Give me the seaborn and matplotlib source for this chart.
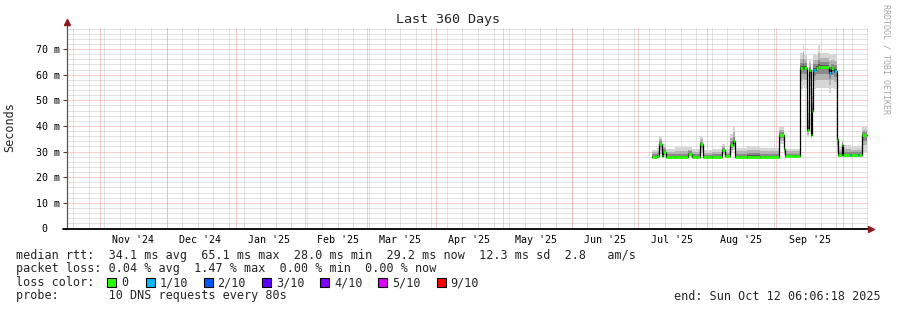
import numpy as np
import pandas as pd
import matplotlib
matplotlib.use("Agg")
import matplotlib.pyplot as plt
from matplotlib.patches import Rectangle
import seaborn as sns

sns.set_style("white")
plt.rcParams['font.family'] = ['DejaVu Sans Mono', 'DejaVu Sans']

# ---------------- data ----------------
seg_start = ["2025-07-07 01:00", "2025-07-09 12:00", "2025-07-10 13:00", "2025-07-11 13:00",
             "2025-07-12 06:00", "2025-07-13 11:00", "2025-07-17 12:00", "2025-07-23 09:00",
             "2025-07-25 04:00", "2025-07-28 18:00", "2025-07-29 23:00", "2025-08-03 03:00",
             "2025-08-07 12:00", "2025-08-09 00:00", "2025-08-11 05:30", "2025-08-12 10:00",
             "2025-08-13 11:30", "2025-08-19 00:00", "2025-08-24 17:00", "2025-09-02 06:00",
             "2025-09-04 12:00", "2025-09-04 23:00", "2025-09-11 16:30", "2025-09-13 00:00",
             "2025-09-13 12:00", "2025-09-14 17:00", "2025-09-15 21:00", "2025-09-16 10:00",
             "2025-09-16 23:00", "2025-09-17 16:00", "2025-09-18 20:00", "2025-09-20 00:00",
             "2025-09-20 16:00", "2025-09-24 17:30", "2025-09-25 15:00", "2025-09-26 18:00",
             "2025-09-28 04:30", "2025-09-28 21:30", "2025-09-30 10:00", "2025-10-01 03:30",
             "2025-10-04 05:00", "2025-10-04 17:00", "2025-10-07 21:30", "2025-10-08 08:00",
             "2025-10-09 10:00"]
data_end = "2025-10-11 14:00"
median_ms = [28.0, 28.2, 33.0, 28.4, 29.8, 28.0, 28.0, 29.2,
             28.0, 32.9, 28.0, 28.0, 30.8, 28.2, 32.5, 34.0,
             28.0, 28.0, 28.0, 36.4, 31.0, 28.2, 62.8, 63.2,
             62.8, 38.5, 61.8, 36.4, 46.0, 62.0, 62.8, 63.0,
             63.0, 60.8, 62.5, 61.5, 35.0, 28.5, 32.5, 28.5,
             28.5, 28.5, 28.5, 28.5, 36.4]
smoke_lo = [27.6, 27.7, 29.0, 27.7, 28.0, 27.6, 27.6, 28.0,
            27.6, 29.5, 27.6, 27.6, 28.5, 27.6, 29.5, 30.5,
            27.6, 27.6, 27.6, 33.0, 28.5, 27.7, 54.6, 55.5,
            55.0, 35.5, 52.0, 35.0, 38.0, 54.5, 54.8, 55.0,
            55.0, 53.0, 55.0, 54.5, 30.0, 27.8, 28.5, 27.8,
            27.8, 27.8, 27.8, 27.8, 30.0]
smoke_hi = [30.8, 31.5, 36.0, 31.5, 33.0, 31.0, 31.8, 31.8,
            31.2, 36.0, 30.5, 31.0, 33.0, 31.0, 37.0, 39.6,
            31.5, 32.2, 31.5, 39.6, 34.0, 31.2, 68.3, 72.0,
            68.0, 50.0, 66.0, 45.0, 55.0, 68.0, 67.5, 71.6,
            68.5, 68.0, 67.5, 68.0, 42.0, 32.0, 34.5, 32.5,
            32.5, 32.0, 32.5, 32.0, 39.6]
loss_level = [0, 0, 0, 0, 0, 0, 0, 0,
              0, 0, 0, 0, 0, 0, 0, 0,
              0, 0, 0, 0, 0, 0, 0, 0,
              0, 0, 0, 0, 0, 1, 0, 0,
              0, 1, 0, 1, 0, 0, 0, 0,
              1, 0, 1, 0, 0]

loss_names = ["0", "1/10", "2/10", "3/10", "4/10", "5/10", "9/10"]
loss_colors = ["#26ff00", "#00b8ff", "#0059ff", "#5e00ff", "#7e00ff", "#dd00ff", "#ff0000"]

ytick_vals = [0, 10, 20, 30, 40, 50, 60, 70]
ytick_labels = ["0\u00a0\u00a0", "10 m", "20 m", "30 m", "40 m", "50 m", "60 m", "70 m"]
month_label_dates = ["2024-11-16", "2024-12-16", "2025-01-16", "2025-02-16", "2025-03-16",
                     "2025-04-16", "2025-05-16", "2025-06-16", "2025-07-16", "2025-08-16",
                     "2025-09-16"]
month_labels = ["Nov '24", "Dec '24", "Jan '25", "Feb '25", "Mar '25", "Apr '25",
                "May '25", "Jun '25", "Jul '25", "Aug '25", "Sep '25"]

title = "Last 360 Days"
legend_rtt = "median rtt:  34.1 ms avg  65.1 ms max  28.0 ms min  29.2 ms now  12.3 ms sd  2.8   am/s"
legend_loss = "packet loss: 0.04 % avg  1.47 % max  0.00 % min  0.00 % now"
legend_probe = "probe:       10 DNS requests every 80s"
end_text = "end: Sun Oct 12 06:06:18 2025"
end_time = pd.Timestamp("2025-10-12 06:06:18")
start_time = end_time - pd.Timedelta(days=360)

# ---------------- figure ----------------
W, H = 897, 310
fig = plt.figure(figsize=(W / 100, H / 100), dpi=100)
fig.patch.set_facecolor("white")
ax = fig.add_axes([67 / W, (H - 228.5) / H, 801 / W, 201.5 / H])
ax.set_facecolor("white")
ax.set_xlim(start_time, end_time)
ax.set_ylim(0, 78.6)
for s in ax.spines.values():
    s.set_visible(False)

minor_c, major_c = "#c6c6c6", "#f09c9c"
dot = (0, (1, 1))
gkw = dict(lw=0.72, ls=dot)
for d in pd.date_range("2024-10-20", end_time, freq="7D"):
    ax.axvline(d, color=minor_c, zorder=0, **gkw)
for yv in np.arange(2, 79, 2):
    if yv % 10:
        ax.axhline(yv, color=minor_c, zorder=0, **gkw)
for d in pd.date_range("2024-11-01", end_time, freq="MS"):
    ax.axvline(d, color=major_c, zorder=1, **gkw)
for yv in ytick_vals[1:]:
    ax.axhline(yv, color=major_c, zorder=1, **gkw)

# ---------------- smoke ----------------
t = pd.to_datetime(seg_start)
t_ext = t.append(pd.DatetimeIndex([pd.Timestamp(data_end)]))
med = np.array(median_ms)
lo = np.array(smoke_lo)
hi = np.array(smoke_hi)
med_e = np.append(med, med[-1])
lo_e = np.append(lo, lo[-1])
hi_e = np.append(hi, hi[-1])

layers = [(1.0, "#d6d6d6"), (0.62, "#b3b3b3"), (0.33, "#8a8a8a"), (0.12, "#555555")]
for f, c in layers:
    ax.fill_between(t_ext, med_e - f * (med_e - lo_e), med_e + f * (hi_e - med_e),
                    step="post", color=c, lw=0, zorder=2)

# median line: black steps with loss-coloured plateaus
sns.lineplot(x=t_ext, y=med_e, drawstyle="steps-post", color="black", linewidth=0.9,
             estimator=None, ax=ax, zorder=3, legend=False)
ax.hlines(med, t_ext[:-1], t_ext[1:], colors=[loss_colors[k] for k in loss_level],
          lw=2.0, zorder=4)

# ---------------- axes ----------------
ax.set_yticks(ytick_vals)
ax.set_yticklabels(ytick_labels)
ax.set_xticks(pd.to_datetime(month_label_dates))
ax.set_xticklabels(month_labels)
ax.tick_params(axis="y", length=3, width=0.8, color="#444444", pad=2, labelsize=7.2,
               labelcolor="black", left=True)
ax.tick_params(axis="x", length=0, pad=4.5, labelsize=7.2, labelcolor="black", bottom=True)
ax.set_xlabel("")
ax.set_ylabel("")

ax.plot([0, 0], [0, 1.02], transform=ax.transAxes, color="#555555", lw=0.9,
        clip_on=False, zorder=5)
ax.plot([-0.005, 1.002], [0, 0], transform=ax.transAxes, color="black", lw=1.3,
        clip_on=False, zorder=5)
ax.plot([0], [1.027], marker="^", ms=5, color="#8b1a1a", transform=ax.transAxes,
        clip_on=False, zorder=6, mec="#8b1a1a")
ax.plot([1.004], [0], marker=">", ms=5, color="#8b1a1a", transform=ax.transAxes,
        clip_on=False, zorder=6, mec="#8b1a1a")

# ---------------- texts ----------------
def fy(y):
    return 1 - y / H

fs = 8.5
fig.text(448 / W, fy(19.5), title, ha="center", va="center", fontsize=9.6)
fig.text(10 / W, fy(127), "Seconds", ha="center", va="center", rotation=90, fontsize=fs)
fig.text(886 / W, fy(4), "RRDTOOL / TOBI OETIKER", ha="center", va="top", rotation=270,
         fontsize=6.0, color="#a8a8a8")

fig.text(16 / W, fy(255), legend_rtt, ha="left", va="center", fontsize=fs)
fig.text(16 / W, fy(268.5), legend_loss, ha="left", va="center", fontsize=fs)
fig.text(16 / W, fy(282.5), "loss color:", ha="left", va="center", fontsize=fs)
fig.text(16 / W, fy(296), legend_probe, ha="left", va="center", fontsize=fs)
fig.text(881 / W, fy(296), end_text, ha="right", va="center", fontsize=fs)

sq_x = [107, 145.5, 203.5, 262, 320, 378, 436.5]
lab_x = [121.5, 159.5, 217.5, 276, 334, 392, 450.5]
for sx, lx, name, col in zip(sq_x, lab_x, loss_names, loss_colors):
    fig.patches.append(Rectangle((sx / W, fy(287)), 9 / W, 9 / H, transform=fig.transFigure,
                                 facecolor=col, edgecolor="black", lw=0.8))
    fig.text(lx / W, fy(282.5), name, ha="left", va="center", fontsize=fs)

fig.savefig("out.png", dpi=100, facecolor="white")
